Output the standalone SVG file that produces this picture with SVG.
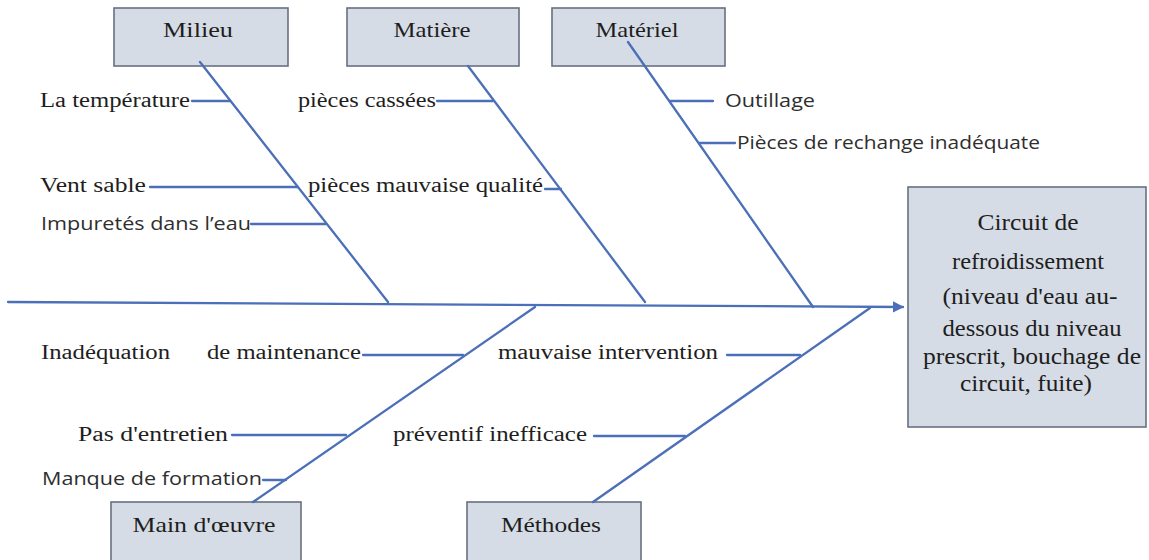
<svg xmlns="http://www.w3.org/2000/svg" width="1149" height="560" viewBox="0 0 1149 560">
<defs>
<style>
.box{fill:#d6dce5;stroke:#687080;stroke-width:1.6}
.ln{stroke:#4b6fb8;stroke-width:2.3;fill:none;stroke-linecap:round}
.sf{font-family:"Liberation Serif","Times New Roman",serif;font-size:20px;fill:#1e1e1e}
.sb{font-family:"Liberation Serif","Times New Roman",serif;font-size:21px;fill:#1e1e1e;text-anchor:middle}
.se{font-family:"Liberation Serif","Times New Roman",serif;font-size:24px;fill:#1e1e1e;text-anchor:middle}
.ss{font-family:"Open Sans","Liberation Sans",Arial,sans-serif;font-size:18.5px;fill:#2e2e2e}
</style>
<marker id="arr" viewBox="0 0 10 10" refX="9" refY="5" markerWidth="5" markerHeight="5" orient="auto" markerUnits="strokeWidth">
<path d="M0,0 L10,5 L0,10 z" fill="#4b6fb8"/>
</marker>
</defs>
<rect width="1149" height="560" fill="#ffffff"/>

<g id="node-milieu">
<rect class="box" x="114" y="8" width="174" height="58"/>
<text class="sb" x="198" y="37" textLength="70" lengthAdjust="spacingAndGlyphs">Milieu</text>
</g>
<g id="node-matiere">
<rect class="box" x="347" y="8" width="172" height="58"/>
<text class="sb" x="432" y="37" textLength="77" lengthAdjust="spacingAndGlyphs">Matière</text>
</g>
<g id="node-materiel">
<rect class="box" x="552" y="8" width="173" height="58"/>
<text class="sb" x="637" y="37" textLength="83" lengthAdjust="spacingAndGlyphs">Matériel</text>
</g>
<g id="node-main">
<rect class="box" x="111" y="502" width="190" height="70"/>
<text class="sb" x="204" y="532" textLength="143" lengthAdjust="spacingAndGlyphs">Main d'œuvre</text>
</g>
<g id="node-methodes">
<rect class="box" x="467" y="502" width="174" height="70"/>
<text class="sb" x="551" y="532" textLength="100" lengthAdjust="spacingAndGlyphs">Méthodes</text>
</g>
<g id="node-effet">
<rect class="box" x="908" y="187" width="238" height="240"/>
<text class="se" x="1028" y="230" textLength="101" lengthAdjust="spacingAndGlyphs">Circuit de</text>
<text class="se" x="1028" y="269" textLength="152" lengthAdjust="spacingAndGlyphs">refroidissement</text>
<text class="se" x="1030" y="304" textLength="175" lengthAdjust="spacingAndGlyphs">(niveau d'eau au-</text>
<text class="se" x="1032" y="336" textLength="179" lengthAdjust="spacingAndGlyphs">dessous du niveau</text>
<text class="se" x="1032" y="364" textLength="218" lengthAdjust="spacingAndGlyphs">prescrit, bouchage de</text>
<text class="se" x="1026" y="391" textLength="132" lengthAdjust="spacingAndGlyphs">circuit, fuite)</text>
</g>

<g id="connectors">
<line class="ln" x1="8" y1="302" x2="903" y2="307" marker-end="url(#arr)"/>
<line class="ln" x1="200" y1="62" x2="388" y2="302"/>
<line class="ln" x1="468" y1="66" x2="645" y2="302"/>
<line class="ln" x1="628" y1="42" x2="813" y2="307"/>
<line class="ln" x1="535" y1="307" x2="253" y2="502"/>
<line class="ln" x1="870" y1="308" x2="593" y2="502"/>
<line class="ln" x1="192" y1="101" x2="230" y2="101"/>
<line class="ln" x1="150" y1="187" x2="298" y2="187"/>
<line class="ln" x1="251" y1="224" x2="326" y2="224"/>
<line class="ln" x1="437" y1="101" x2="493" y2="101"/>
<line class="ln" x1="545" y1="189" x2="561" y2="189"/>
<line class="ln" x1="670" y1="101" x2="713" y2="101"/>
<line class="ln" x1="699" y1="143" x2="735" y2="143"/>
<line class="ln" x1="363" y1="355" x2="463" y2="355"/>
<line class="ln" x1="232" y1="435" x2="346" y2="435"/>
<line class="ln" x1="263" y1="480" x2="286" y2="480"/>
<line class="ln" x1="727" y1="355" x2="800" y2="355"/>
<line class="ln" x1="594" y1="436" x2="685" y2="436"/>
</g>

<g id="labels">
<text class="sf" x="40" y="107" textLength="150" lengthAdjust="spacingAndGlyphs">La température</text>
<text class="sf" x="298" y="107" textLength="138" lengthAdjust="spacingAndGlyphs">pièces cassées</text>
<text class="ss" x="725" y="107" textLength="90" lengthAdjust="spacingAndGlyphs">Outillage</text>
<text class="ss" x="737" y="149" textLength="303" lengthAdjust="spacingAndGlyphs">Pièces de rechange inadéquate</text>
<text class="sf" x="40" y="192" textLength="106" lengthAdjust="spacingAndGlyphs">Vent sable</text>
<text class="sf" x="308" y="192" textLength="235" lengthAdjust="spacingAndGlyphs">pièces mauvaise qualité</text>
<text class="ss" x="41" y="230" textLength="210" lengthAdjust="spacingAndGlyphs">Impuretés dans l’eau</text>
<text class="sf" x="41" y="359" textLength="129" lengthAdjust="spacingAndGlyphs">Inadéquation</text>
<text class="sf" x="207" y="359" textLength="154" lengthAdjust="spacingAndGlyphs">de maintenance</text>
<text class="sf" x="498" y="359" textLength="220" lengthAdjust="spacingAndGlyphs">mauvaise intervention</text>
<text class="sf" x="78" y="441" textLength="150" lengthAdjust="spacingAndGlyphs">Pas d'entretien</text>
<text class="sf" x="393" y="441" textLength="194" lengthAdjust="spacingAndGlyphs">préventif inefficace</text>
<text class="ss" x="42" y="485" textLength="220" lengthAdjust="spacingAndGlyphs">Manque de formation</text>
</g>
</svg>
